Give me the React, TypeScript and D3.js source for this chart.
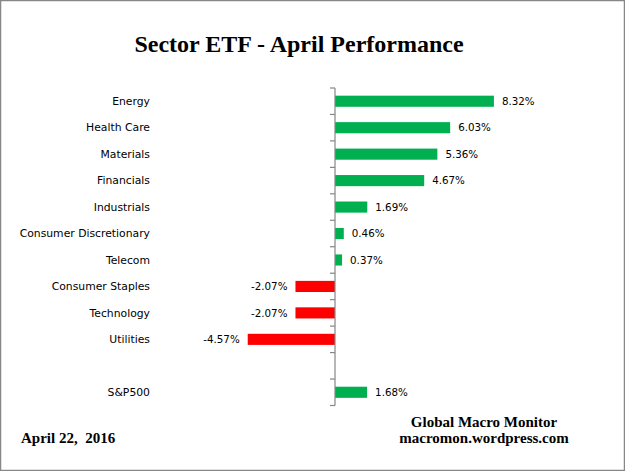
import React from "react";
import * as d3 from "d3";

const categories = [
  "Energy",
  "Health Care",
  "Materials",
  "Financials",
  "Industrials",
  "Consumer Discretionary",
  "Telecom",
  "Consumer Staples",
  "Technology",
  "Utilities",
  " ",
  "S&P500",
];
const values: (number | null)[] = [8.32, 6.03, 5.36, 4.67, 1.69, 0.46, 0.37, -2.07, -2.07, -4.57, null, 1.68];

const title = "Sector ETF - April Performance";
const dateText = "April 22,  2016";
const sourceLines = ["Global Macro Monitor", "macromon.wordpress.com"];

const W = 625;
const H = 471;

export default function App() {
  const y = d3.scaleBand<string>().domain(categories).range([88, 405.5]).paddingInner(0.58).paddingOuter(0.29);
  const yb = d3.scaleBand<string>().domain(categories).range([88, 405.5]);
  const x = d3.scaleLinear().domain([-10, 10]).range([144, 526]);
  const fmt = d3.format(".2f");
  const x0 = x(0);
  const labelFont = "'DejaVu Sans', Verdana, sans-serif";
  const serif = "'Liberation Serif', 'Times New Roman', serif";

  const ticks = categories.map((c) => yb(c) as number).concat([405.5]);

  return (
    <svg width={W} height={H} style={{ position: "fixed", left: 0, top: 0, background: "#fff" }}>
      <rect x={0.5} y={0.5} width={W - 1} height={H - 1} fill="#fff" stroke="#878787" strokeWidth={1.5} />
      <text x={299} y={52} textAnchor="middle" fontFamily={serif} fontWeight="bold" fontSize={24} fill="#000">
        {title}
      </text>

      {categories.map((c, i) => {
        const v = values[i];
        if (v === null) return null;
        const by = y(c) as number;
        const bh = y.bandwidth();
        const xs = Math.min(x(0), x(v));
        const w = Math.abs(x(v) - x(0));
        const cy = (yb(c) as number) + yb.bandwidth() / 2;
        return (
          <g key={c}>
            <rect x={xs} y={by} width={w} height={bh} fill={v >= 0 ? "#00B050" : "#FF0000"} />
            <text
              x={v >= 0 ? x(v) + 8 : x(v) - 8}
              y={cy}
              dy="0.35em"
              textAnchor={v >= 0 ? "start" : "end"}
              fontFamily={labelFont}
              fontSize={10.3}
              fill="#000"
            >
              {fmt(v).replace("\u2212", "-") + "%"}
            </text>
            <text x={150} y={cy} dy="0.35em" textAnchor="end" fontFamily={labelFont} fontSize={10.8} fill="#000">
              {c}
            </text>
          </g>
        );
      })}

      <line x1={x0} x2={x0} y1={88} y2={405.5} stroke="#868686" strokeWidth={1.2} />
      {ticks.map((t, i) => (
        <line key={i} x1={x0 - 5} x2={x0} y1={t} y2={t} stroke="#868686" strokeWidth={1.2} />
      ))}

      <text x={21} y={443} fontFamily={serif} fontWeight="bold" fontSize={15} fill="#000" style={{ whiteSpace: "pre" }}>
        {dateText}
      </text>
      {sourceLines.map((s, i) => (
        <text key={s} x={484} y={427 + i * 16} textAnchor="middle" fontFamily={serif} fontWeight="bold" fontSize={15} fill="#000">
          {s}
        </text>
      ))}
    </svg>
  );
}
